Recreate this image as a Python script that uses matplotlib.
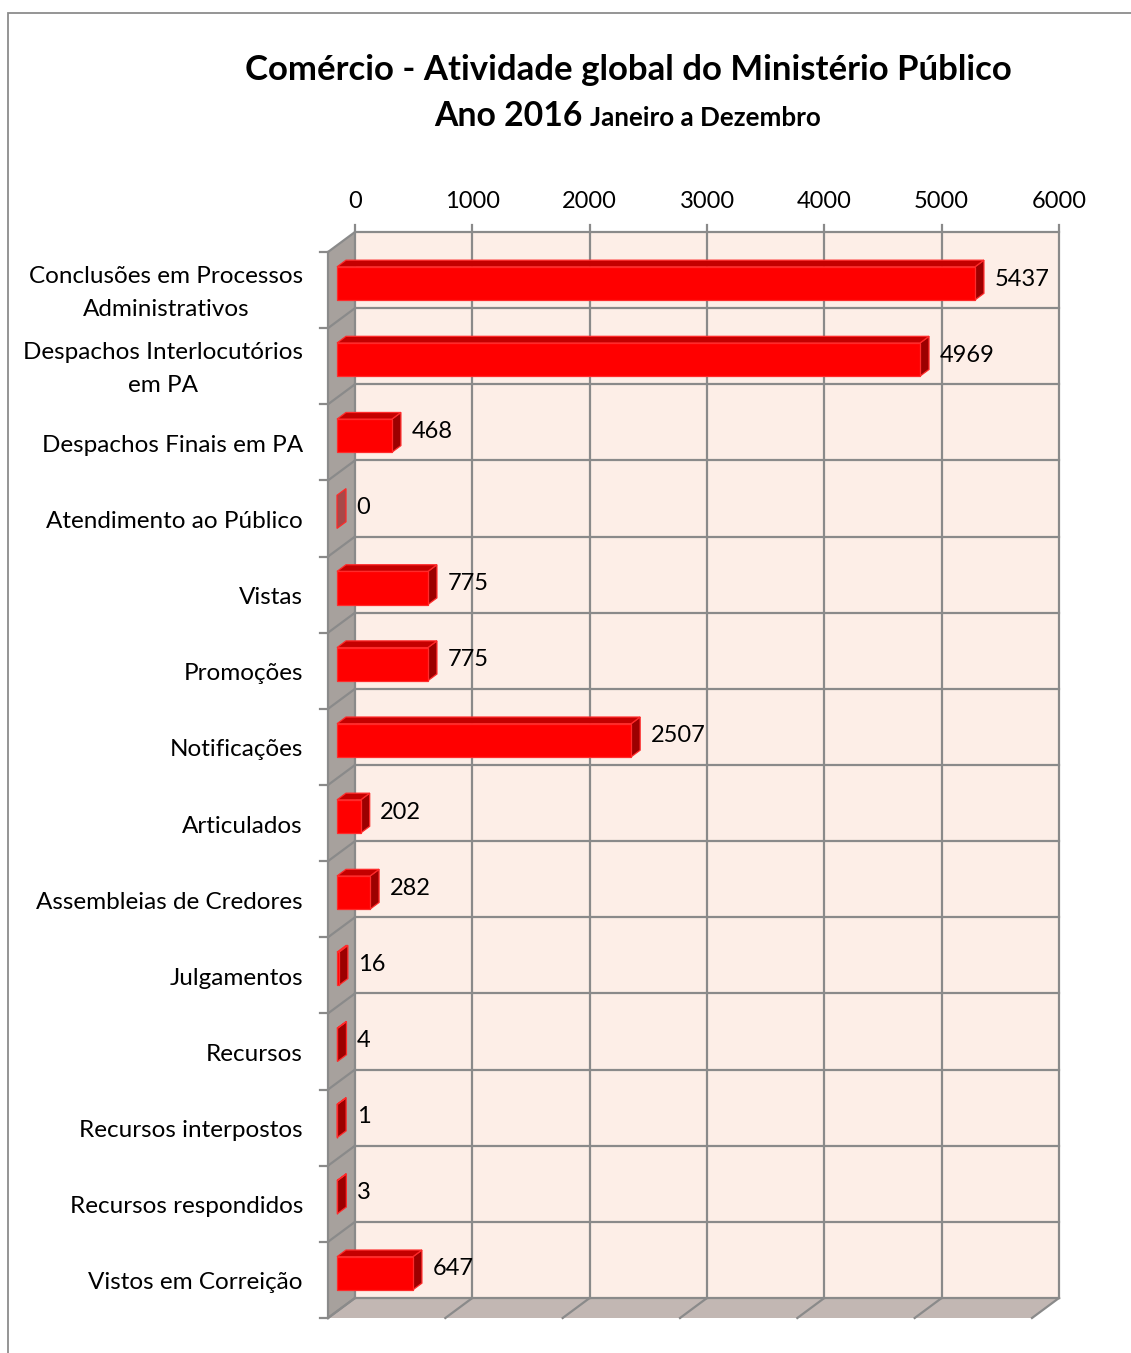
import matplotlib
matplotlib.use("Agg")
import matplotlib.pyplot as plt
from matplotlib.patches import Polygon, Rectangle
from matplotlib.lines import Line2D
import numpy as np

plt.rcParams['font.family'] = ['Lato', 'DejaVu Sans']

# ---- data ----
categories = [
    "Conclusões em Processos\nAdministrativos",
    "Despachos Interlocutórios\nem PA",
    "Despachos Finais em PA",
    "Atendimento ao Público",
    "Vistas",
    "Promoções",
    "Notificações",
    "Articulados",
    "Assembleias de Credores",
    "Julgamentos",
    "Recursos",
    "Recursos interpostos",
    "Recursos respondidos",
    "Vistos em Correição",
]
values = [5437, 4969, 468, 0, 775, 775, 2507, 202, 282, 16, 4, 1, 3, 647]
x_ticks = [0, 1000, 2000, 3000, 4000, 5000, 6000]
title_line1 = "Comércio - Atividade global do Ministério Público"
title_year = "Ano 2016"
title_period = "Janeiro a Dezembro"

# ---- style ----
W, H, DPI = 1131, 1353, 100
BACK_WALL = "#fdeee7"
SIDE_WALL = "#a7a19d"
FLOOR = "#c2b7b3"
GRID = "#8a8a8a"
FRONT = "#ff0000"
TOP = "#c40000"
SIDE = "#9c0000"
EDGE = "#ff2a2a"
DEPTH = np.array([-27.0, -20.0])     # display-pixel offset from back plane to front plane
BAR_D0, BAR_D1 = 1 / 3, 2 / 3        # bar depth span (fraction of DEPTH)
BAR_H = 0.435                        # bar thickness in category units
FS_LABEL = 17.5
FS_TICK = 17

fig = plt.figure(figsize=(W / DPI, H / DPI), dpi=DPI)
ax = fig.add_axes([355 / W, (H - 1298) / H, 704 / W, 1066 / H])
n = len(categories)
ax.set_xlim(0, 6000)
ax.set_ylim(n, 0)
ax.axis("off")
fig.canvas.draw()


def pt(v, c, d):
    """Map (value, category position, depth fraction) to display pixels."""
    p = ax.transData.transform((v, c))
    return p + d * DEPTH


def poly(points, **kw):
    fig.patches.append(Polygon(points, closed=True, transform=None, figure=fig, **kw))


def seg(p0, p1, **kw):
    fig.lines.append(Line2D([p0[0], p1[0]], [p0[1], p1[1]], transform=None, figure=fig, **kw))


# outer frame
fig.patches.append(Rectangle((8 / W, -0.05), 1.2, (H - 13) / H + 0.05, transform=fig.transFigure,
                             fill=False, edgecolor="#8c8c8c", linewidth=1.3, figure=fig))

# back wall
poly([pt(0, 0, 0), pt(6000, 0, 0), pt(6000, n, 0), pt(0, n, 0)], facecolor=BACK_WALL, edgecolor="none", zorder=1)
# left wall
poly([pt(0, 0, 0), pt(0, n, 0), pt(0, n, 1), pt(0, 0, 1)], facecolor=SIDE_WALL, edgecolor="none", zorder=1)
# floor
poly([pt(0, n, 0), pt(6000, n, 0), pt(6000, n, 1), pt(0, n, 1)], facecolor=FLOOR, edgecolor="none", zorder=1)

glw = 1.6
# vertical gridlines on back wall + floor diagonals + top ticks
for xv in x_ticks:
    seg(pt(xv, -0.09, 0), pt(xv, n, 0), color=GRID, lw=glw, zorder=2)
    seg(pt(xv, n, 0), pt(xv, n, 1), color=GRID, lw=glw, zorder=2)
    p = pt(xv, 0, 0)
    fig.text(p[0] / W, (p[1] + 31) / H, f"{xv}", ha="center", va="center", fontsize=FS_TICK, color="#000000")
# horizontal gridlines on back wall + left wall diagonals + left ticks
for k in range(n + 1):
    seg(pt(0, k, 0), pt(6000, k, 0), color=GRID, lw=glw, zorder=2)
    seg(pt(0, k, 0), pt(0, k, 1), color=GRID, lw=glw, zorder=2)
    f = pt(0, k, 1)
    seg(f, f + np.array([-8, 0]), color=GRID, lw=glw, zorder=2)
# left wall front edge
seg(pt(0, 0, 1), pt(0, n, 1), color=GRID, lw=glw, zorder=2)

# bars
for i, (cat, v) in enumerate(zip(categories, values)):
    c0, c1 = i + 0.5 - BAR_H / 2, i + 0.5 + BAR_H / 2
    elw = 0.9
    if v == 0:
        poly([pt(0, c0, BAR_D1), pt(0, c0, BAR_D0), pt(0, c1, BAR_D0), pt(0, c1, BAR_D1)],
             facecolor="#a84848", edgecolor=EDGE, lw=elw, zorder=3)
    else:
        poly([pt(v, c0, BAR_D1), pt(v, c0, BAR_D0), pt(v, c1, BAR_D0), pt(v, c1, BAR_D1)],
             facecolor=SIDE, edgecolor=EDGE, lw=elw, zorder=3)
        poly([pt(0, c0, BAR_D1), pt(0, c0, BAR_D0), pt(v, c0, BAR_D0), pt(v, c0, BAR_D1)],
             facecolor=TOP, edgecolor=EDGE, lw=elw, zorder=3)
        poly([pt(0, c0, BAR_D1), pt(v, c0, BAR_D1), pt(v, c1, BAR_D1), pt(0, c1, BAR_D1)],
             facecolor=FRONT, edgecolor=EDGE, lw=elw, zorder=4)
    # value label
    lp = pt(v, i + 0.5, 0.5)
    fig.text((lp[0] + 15) / W, (lp[1] + 1) / H, f"{v}", ha="left", va="center", fontsize=FS_TICK,
             color="#000000", zorder=5)
    # category label
    cp = pt(0, i + 0.5, 1)
    fig.text((cp[0] - 25) / W, (cp[1] - 3) / H, cat, ha="right", va="center", multialignment="center",
             fontsize=FS_LABEL, linespacing=1.68, color="#000000")

# title
fig.text(628 / W, (H - 80) / H, title_line1, ha="center", va="baseline", fontsize=25, fontweight="bold")
fig.text(583 / W, (H - 126) / H, title_year, ha="right", va="baseline", fontsize=24.3, fontweight="bold")
fig.text(590 / W, (H - 126) / H, title_period, ha="left", va="baseline", fontsize=18.7, fontweight="bold")

fig.savefig("out.png", dpi=DPI)
